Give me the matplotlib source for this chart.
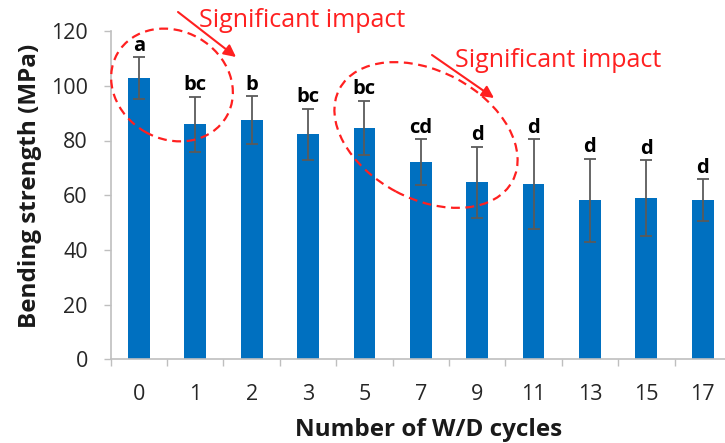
import numpy as np
import matplotlib
matplotlib.use('Agg')
import matplotlib.pyplot as plt
from matplotlib.patches import Ellipse

# data
cycles = ['0', '1', '2', '3', '5', '7', '9', '11', '13', '15', '17']
strength = [102.7, 85.9, 87.4, 82.3, 84.5, 72.0, 64.7, 64.0, 58.1, 58.9, 58.1]
sd = [7.7, 10.0, 8.8, 9.3, 9.9, 8.4, 12.9, 16.4, 15.2, 13.8, 7.7]
groups = ['a', 'bc', 'b', 'bc', 'bc', 'cd', 'd', 'd', 'd', 'd', 'd']

W, H = 725, 443
plt.rcParams['font.family'] = ['Open Sans', 'DejaVu Sans']

fig = plt.figure(figsize=(W / 100, H / 100), dpi=100)
ax = fig.add_axes([110.7 / W, 83.7 / H, 620.2 / W, 328.2 / H])

x = np.arange(len(cycles))
ax.bar(x, strength, width=0.385, color='#0070c0', zorder=2)
ax.errorbar(x, strength, yerr=sd, fmt='none', ecolor='#5a5a5a',
            elinewidth=1.3, capsize=4, capthick=1.3, zorder=3)
for xi, v, e, g in zip(x, strength, sd, groups):
    ax.text(xi, v + e + 0.6, g, ha='center', va='bottom',
            fontsize=14.5, fontweight='bold', color='black')

ax.set_xlim(-0.5, len(cycles) - 0.5)
ax.set_ylim(0, 120)
ax.set_yticks(np.arange(0, 121, 20))
ax.set_xticks(x)
ax.set_xticklabels(cycles)
ax.set_xticks(np.arange(-0.5, len(cycles), 1), minor=True)
ax.tick_params(axis='x', which='major', length=0, pad=17.5, labelsize=15.5, labelcolor='#262626')
ax.tick_params(axis='x', which='minor', length=5, width=1, color='#bfbfbf')
ax.tick_params(axis='y', length=5, width=1, color='#bfbfbf', pad=11.5,
               labelsize=15.5, labelcolor='#262626')
for s in ['top', 'right']:
    ax.spines[s].set_visible(False)
for s in ['left', 'bottom']:
    ax.spines[s].set_color('#bfbfbf')
    ax.spines[s].set_linewidth(1.2)

ax.set_xlabel('Number of W/D cycles', fontsize=17.5, fontweight='bold', color='#1a1a1a')
ax.set_ylabel('Bending strength (MPa)', fontsize=17.5, fontweight='bold', color='#1a1a1a')
ax.xaxis.set_label_coords(0.512, -0.179)
ax.yaxis.set_label_coords(-0.111, 0.528)

# annotations placed in pixel space (inches via dpi_scale_trans)
red = '#ff2020'
tr = fig.dpi_scale_trans


def px(xp, yp):
    return (xp / 100, (H - yp) / 100)


e1 = Ellipse(px(172, 85), 1.26, 1.08, angle=-30, transform=tr, fill=False,
             edgecolor=red, lw=1.6, ls=(0, (4, 2.5)))
e2 = Ellipse(px(426, 135), 1.96, 1.28, angle=-28, transform=tr, fill=False,
             edgecolor=red, lw=1.6, ls=(0, (4, 2.5)))
fig.add_artist(e1)
fig.add_artist(e2)

for start, end in [((178, 12), (236, 57)), ((432, 55), (494, 98))]:
    ax.annotate('', xy=px(*end), xytext=px(*start), xycoords=tr, textcoords=tr,
                arrowprops=dict(arrowstyle='-|>', color=red, lw=1.5,
                                mutation_scale=18, shrinkA=0, shrinkB=0),
                annotation_clip=False)

fig.text(*px(199, 26.7), 'Significant impact', transform=tr, color=red,
         fontsize=18, va='baseline', ha='left')
fig.text(*px(455, 66.7), 'Significant impact', transform=tr, color=red,
         fontsize=18, va='baseline', ha='left')

fig.savefig('out.png', dpi=100)
